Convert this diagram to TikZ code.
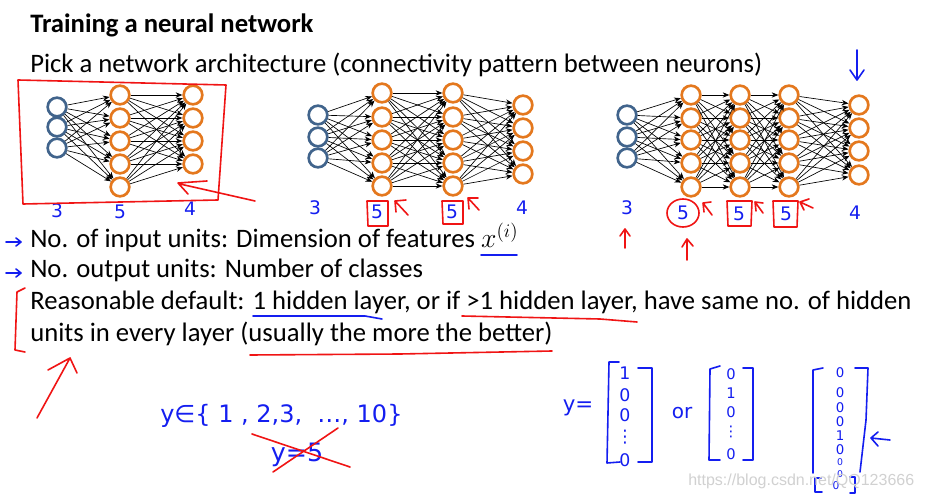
\documentclass[tikz,border=0pt]{standalone}
\usepackage{fontspec}
\setmainfont{Carlito}
\newfontfamily\handfont{DejaVu Sans}
\newfontfamily\markfont{Liberation Sans}
\usetikzlibrary{arrows.meta}
\definecolor{nodeblue}{RGB}{65,100,140}
\definecolor{nodeorange}{RGB}{228,120,30}
\definecolor{penblue}{RGB}{20,30,240}
\definecolor{penred}{RGB}{240,20,20}
\begin{document}
\begin{tikzpicture}[x=0.75pt,y=-0.75pt,
  unit/.style={circle,minimum size=14pt,inner sep=0pt,line width=2pt},
  inp/.style={unit,draw=nodeblue},
  hid/.style={unit,draw=nodeorange},
  edge/.style={line width=0.5pt,-{Stealth[length=5pt,width=4pt]}},
  txt/.style={anchor=base west,inner sep=0pt,font=\fontsize{20}{24}\selectfont},
  pen/.style={text=penblue,font=\handfont\fontsize{14}{16}\selectfont,inner sep=0pt},
  redpen/.style={draw=penred,line width=1.2pt,line cap=round,line join=round},
  bluepen/.style={draw=penblue,line width=1.2pt,line cap=round,line join=round}]
\useasboundingbox[fill=white] (0,0) rectangle (930,498);

% text
\node[txt,font=\bfseries\fontsize{20}{24}\selectfont] (title) at (30,33) {Training a neural network};
\node[txt] (pick) at (30,73) {Pick a network architecture (connectivity pattern between neurons)};
\node[txt] (l1) at (30,248) {No. of input units: Dimension of features $x^{(i)}$};
\node[txt] (l2) at (30,278) {No. output units: Number of classes};
\node[txt] (l3) at (30,310) {Reasonable default: 1 hidden layer, or if >1 hidden layer, have same no. of hidden};
\node[txt] (l4) at (30,342) {units in every layer (usually the more the better)};

% network 1: 3-5-4
\foreach \i/\y in {1/107,2/127,3/148} \node[inp] (A0-\i) at (57,\y) {};
\foreach \i/\y in {1/95,2/118,3/141,4/164,5/187} \node[hid] (A1-\i) at (120,\y) {};
\foreach \i/\y in {1/95,2/118,3/141,4/164} \node[hid] (A2-\i) at (193,\y) {};
\foreach \i in {1,...,3} \foreach \j in {1,...,5} \draw[edge] (A0-\i) -- (A1-\j);
\foreach \i in {1,...,5} \foreach \j in {1,...,4} \draw[edge] (A1-\i) -- (A2-\j);

% network 2: 3-5-5-4
\foreach \i/\y in {1/115,2/137,3/158} \node[inp] (B0-\i) at (318,\y) {};
\foreach \i/\y in {1/93,2/117,3/140,4/163,5/186} {
  \node[hid] (B1-\i) at (382,\y) {};
  \node[hid] (B2-\i) at (453,\y) {};
}
\foreach \i/\y in {1/105,2/128,3/151,4/174} \node[hid] (B3-\i) at (523,\y) {};
\foreach \i in {1,...,3} \foreach \j in {1,...,5} \draw[edge] (B0-\i) -- (B1-\j);
\foreach \i in {1,...,5} \foreach \j in {1,...,5} \draw[edge] (B1-\i) -- (B2-\j);
\foreach \i in {1,...,5} \foreach \j in {1,...,4} \draw[edge] (B2-\i) -- (B3-\j);

% network 3: 3-5-5-5-4
\foreach \i/\y in {1/115,2/137,3/158} \node[inp] (C0-\i) at (627,\y) {};
\foreach \i/\y in {1/95,2/118,3/140,4/163,5/187} {
  \node[hid] (C1-\i) at (691,\y) {};
  \node[hid] (C2-\i) at (740,\y) {};
  \node[hid] (C3-\i) at (789,\y) {};
}
\foreach \i/\y in {1/105,2/128,3/151,4/175} \node[hid] (C4-\i) at (859,\y) {};
\foreach \i in {1,...,3} \foreach \j in {1,...,5} \draw[edge] (C0-\i) -- (C1-\j);
\foreach \i in {1,...,5} \foreach \j in {1,...,5} {
  \draw[edge] (C1-\i) -- (C2-\j);
  \draw[edge] (C2-\i) -- (C3-\j);
}
\foreach \i in {1,...,5} \foreach \j in {1,...,4} \draw[edge] (C3-\i) -- (C4-\j);

% layer sizes
\foreach \n/\x/\y/\t in {a1/57/211/3,a2/120/212/5,a3/190/209/4,
  b0/315/208/3,b1/377/212/5,b2/452/212/5,b3/522/208/4,
  c0/627/208/3,c1/683/213/5,c2/739/214/5,c3/786/214/5,c4/855/213/4}
  \node[pen] (\n) at (\x,\y) {\t};

% red marks on the networks
\draw[redpen] (18,80) -- (226,85) -- (218,200) -- (23,204) -- cycle;
\draw[redpen] (255,201) -- (180,184) (207,181) -- (178,183) -- (188,194);
\draw[redpen] (367,201) -- (388,201) -- (388,226) -- (368,226) -- cycle;
\draw[redpen] (408,215) -- (395,201) (406,200) -- (395,201) -- (396,212);
\draw[redpen] (442,201) -- (463,201) -- (463,224) -- (443,224) -- cycle;
\draw[redpen] (479,210) -- (468,198) (478,198) -- (468,198) -- (469,209);
\draw[redpen] (683,213) circle[x radius=16,y radius=14];
\draw[redpen] (712,215) -- (703,203) (711,202) -- (703,203) -- (704,212);
\draw[redpen] (727,201) -- (752,201) -- (751,226) -- (728,226) -- cycle;
\draw[redpen] (763,213) -- (755,202) (763,203) -- (755,202) -- (756,211);
\draw[redpen] (773,201) -- (798,201) -- (797,227) -- (774,227) -- cycle;
\draw[redpen] (813,208) -- (800,202) (809,199) -- (800,202) -- (804,210);
\draw[redpen] (625,248) -- (625,229) (620,236) -- (625,229) -- (630,236);
\draw[redpen] (687,260) -- (687,239) (682,247) -- (687,239) -- (693,246);
\draw[bluepen] (857,50) -- (857,80) (850,70) -- (857,80) -- (864,70);

% pen marks on the text
\draw[bluepen] (6,242) -- (21,242) (16,238) -- (21,242) -- (16,246);
\draw[bluepen] (6,273) -- (21,273) (16,269) -- (21,273) -- (16,277);
\draw[bluepen] (481,255) -- (517,255);
\draw[bluepen] (253,316) -- (365,316) -- (382,319);
\draw[redpen] (462,316) -- (600,319) -- (637,322);
\draw[redpen] (250,355) -- (400,354) -- (552,351);
\draw[redpen] (25,288) -- (17,292) -- (15,350) -- (25,352);
\draw[redpen] (37,418) -- (70,358) (48,370) -- (70,358) -- (77,373);

% labels y
\node[pen,anchor=west,font=\handfont\fontsize{18}{20}\selectfont] (yset) at (160,416) {y∈\{ 1 , 2,3,\ \ …, 10\}};
\node[pen,font=\handfont\fontsize{19}{21}\selectfont] (yfive) at (297,455) {y=5};
\draw[redpen] (252,434) -- (350,467) (338,428) -- (273,472);

% one-hot vectors
\node[pen,font=\handfont\fontsize{16}{18}\selectfont] (yeq) at (578,408) {y=};
\draw[bluepen] (619,362) -- (609,362) -- (607,463) -- (620,462);
\draw[bluepen] (638,368) -- (652,368) -- (652,462) -- (638,462);
\foreach \t/\y [count=\k] in {1/373,0/395,0/415,⋮/437,0/460} \node[pen,font=\handfont\fontsize{13}{15}\selectfont] (va\k) at (625,\y) {\t};
\node[pen,font=\handfont\fontsize{15}{17}\selectfont] (vor) at (682,413) {or};
\draw[bluepen] (720,366) -- (710,369) -- (709,460) -- (720,460);
\draw[bluepen] (743,368) -- (753,368) -- (753,460) -- (743,460);
\foreach \t/\y [count=\k] in {0/374,1/393,0/412,⋮/432,0/454} \node[pen,font=\handfont\fontsize{11}{13}\selectfont] (vb\k) at (731,\y) {\t};
\draw[bluepen] (823,368) -- (813,370) -- (813,473);
\draw[bluepen] (855,368) -- (868,368) -- (866,420) -- (860,472);
\foreach \t/\y [count=\k] in {0/373,0/393,0/408,0/422,1/436,0/450} \node[pen,font=\handfont\fontsize{10}{12}\selectfont] (vc\k) at (840,\y) {\t};
\foreach \t/\y [count=\k] in {0/462,0/474} \node[pen,font=\handfont\fontsize{7}{9}\selectfont] (vd\k) at (840,\y) {\t};
\draw[bluepen] (821,478) -- (815,478) -- (815,492) -- (822,492);
\draw[bluepen] (850,477) -- (855,477) -- (855,493) -- (850,493);
\node[pen,font=\handfont\fontsize{8}{10}\selectfont] (ve) at (836,486) {0};
\draw[bluepen] (890,440) -- (871,438) (878,432) -- (871,438) -- (878,446);

% watermark
\node[anchor=base west,inner sep=0pt,text=black!18,font=\markfont\fontsize{12}{14}\selectfont] (mark) at (688,485) {https://blog.csdn.net/QQ123666};
\end{tikzpicture}
\end{document}
